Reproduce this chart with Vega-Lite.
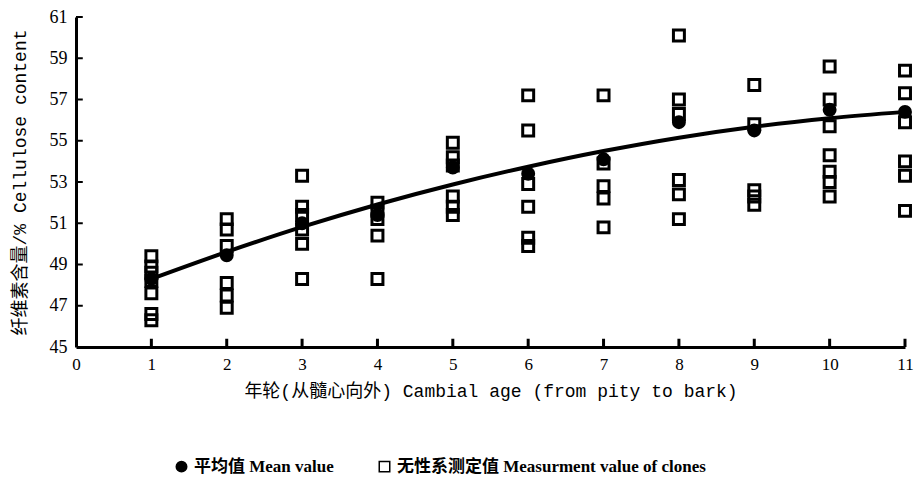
{
  "$schema": "https://vega.github.io/schema/vega-lite/v6.json",
  "width": 829,
  "height": 330,
  "autosize": {"type": "none"},
  "padding": {"left": 76, "top": 17, "right": 9, "bottom": 132},
  "background": "white",
  "config": {"view": {"stroke": null}, "font": "Liberation Serif"},
  "datasets": {
    "xticks": [{"age": 1}, {"age": 2}, {"age": 3}, {"age": 4}, {"age": 5}, {"age": 6}, {"age": 7}, {"age": 8}, {"age": 9}, {"age": 10}, {"age": 11}],
    "yticks": [{"v": 47}, {"v": 49}, {"v": 51}, {"v": 53}, {"v": 55}, {"v": 57}, {"v": 59}, {"v": 61}],
    "curve": [
      {"age": 1, "v": 48.30}, {"age": 2, "v": 49.61}, {"age": 3, "v": 50.82}, {"age": 4, "v": 51.91},
      {"age": 5, "v": 52.88}, {"age": 6, "v": 53.74}, {"age": 7, "v": 54.50}, {"age": 8, "v": 55.15},
      {"age": 9, "v": 55.68}, {"age": 10, "v": 56.09}, {"age": 11, "v": 56.40}
    ],
    "points": [
      {"age": 1, "v": 49.4, "s": "无性系测定值 Measurment value of clones"},
      {"age": 1, "v": 48.9, "s": "无性系测定值 Measurment value of clones"},
      {"age": 1, "v": 48.6, "s": "无性系测定值 Measurment value of clones"},
      {"age": 1, "v": 48.2, "s": "无性系测定值 Measurment value of clones"},
      {"age": 1, "v": 47.6, "s": "无性系测定值 Measurment value of clones"},
      {"age": 1, "v": 46.6, "s": "无性系测定值 Measurment value of clones"},
      {"age": 1, "v": 46.3, "s": "无性系测定值 Measurment value of clones"},
      {"age": 2, "v": 51.2, "s": "无性系测定值 Measurment value of clones"},
      {"age": 2, "v": 50.7, "s": "无性系测定值 Measurment value of clones"},
      {"age": 2, "v": 49.9, "s": "无性系测定值 Measurment value of clones"},
      {"age": 2, "v": 48.1, "s": "无性系测定值 Measurment value of clones"},
      {"age": 2, "v": 47.5, "s": "无性系测定值 Measurment value of clones"},
      {"age": 2, "v": 46.9, "s": "无性系测定值 Measurment value of clones"},
      {"age": 3, "v": 53.3, "s": "无性系测定值 Measurment value of clones"},
      {"age": 3, "v": 51.8, "s": "无性系测定值 Measurment value of clones"},
      {"age": 3, "v": 51.4, "s": "无性系测定值 Measurment value of clones"},
      {"age": 3, "v": 50.7, "s": "无性系测定值 Measurment value of clones"},
      {"age": 3, "v": 50.0, "s": "无性系测定值 Measurment value of clones"},
      {"age": 3, "v": 48.3, "s": "无性系测定值 Measurment value of clones"},
      {"age": 4, "v": 52.0, "s": "无性系测定值 Measurment value of clones"},
      {"age": 4, "v": 51.6, "s": "无性系测定值 Measurment value of clones"},
      {"age": 4, "v": 51.2, "s": "无性系测定值 Measurment value of clones"},
      {"age": 4, "v": 50.4, "s": "无性系测定值 Measurment value of clones"},
      {"age": 4, "v": 48.3, "s": "无性系测定值 Measurment value of clones"},
      {"age": 5, "v": 54.9, "s": "无性系测定值 Measurment value of clones"},
      {"age": 5, "v": 54.2, "s": "无性系测定值 Measurment value of clones"},
      {"age": 5, "v": 53.8, "s": "无性系测定值 Measurment value of clones"},
      {"age": 5, "v": 52.3, "s": "无性系测定值 Measurment value of clones"},
      {"age": 5, "v": 51.8, "s": "无性系测定值 Measurment value of clones"},
      {"age": 5, "v": 51.4, "s": "无性系测定值 Measurment value of clones"},
      {"age": 6, "v": 57.2, "s": "无性系测定值 Measurment value of clones"},
      {"age": 6, "v": 55.5, "s": "无性系测定值 Measurment value of clones"},
      {"age": 6, "v": 52.9, "s": "无性系测定值 Measurment value of clones"},
      {"age": 6, "v": 51.8, "s": "无性系测定值 Measurment value of clones"},
      {"age": 6, "v": 50.3, "s": "无性系测定值 Measurment value of clones"},
      {"age": 6, "v": 49.9, "s": "无性系测定值 Measurment value of clones"},
      {"age": 7, "v": 57.2, "s": "无性系测定值 Measurment value of clones"},
      {"age": 7, "v": 53.9, "s": "无性系测定值 Measurment value of clones"},
      {"age": 7, "v": 52.8, "s": "无性系测定值 Measurment value of clones"},
      {"age": 7, "v": 52.2, "s": "无性系测定值 Measurment value of clones"},
      {"age": 7, "v": 50.8, "s": "无性系测定值 Measurment value of clones"},
      {"age": 8, "v": 60.1, "s": "无性系测定值 Measurment value of clones"},
      {"age": 8, "v": 57.0, "s": "无性系测定值 Measurment value of clones"},
      {"age": 8, "v": 56.3, "s": "无性系测定值 Measurment value of clones"},
      {"age": 8, "v": 53.1, "s": "无性系测定值 Measurment value of clones"},
      {"age": 8, "v": 52.4, "s": "无性系测定值 Measurment value of clones"},
      {"age": 8, "v": 51.2, "s": "无性系测定值 Measurment value of clones"},
      {"age": 9, "v": 57.7, "s": "无性系测定值 Measurment value of clones"},
      {"age": 9, "v": 55.8, "s": "无性系测定值 Measurment value of clones"},
      {"age": 9, "v": 52.6, "s": "无性系测定值 Measurment value of clones"},
      {"age": 9, "v": 52.3, "s": "无性系测定值 Measurment value of clones"},
      {"age": 9, "v": 51.9, "s": "无性系测定值 Measurment value of clones"},
      {"age": 10, "v": 58.6, "s": "无性系测定值 Measurment value of clones"},
      {"age": 10, "v": 57.0, "s": "无性系测定值 Measurment value of clones"},
      {"age": 10, "v": 55.7, "s": "无性系测定值 Measurment value of clones"},
      {"age": 10, "v": 54.3, "s": "无性系测定值 Measurment value of clones"},
      {"age": 10, "v": 53.5, "s": "无性系测定值 Measurment value of clones"},
      {"age": 10, "v": 53.0, "s": "无性系测定值 Measurment value of clones"},
      {"age": 10, "v": 52.3, "s": "无性系测定值 Measurment value of clones"},
      {"age": 11, "v": 58.4, "s": "无性系测定值 Measurment value of clones"},
      {"age": 11, "v": 57.3, "s": "无性系测定值 Measurment value of clones"},
      {"age": 11, "v": 55.9, "s": "无性系测定值 Measurment value of clones"},
      {"age": 11, "v": 54.0, "s": "无性系测定值 Measurment value of clones"},
      {"age": 11, "v": 53.3, "s": "无性系测定值 Measurment value of clones"},
      {"age": 11, "v": 51.6, "s": "无性系测定值 Measurment value of clones"},
      {"age": 1, "v": 48.3, "s": "平均值 Mean value"},
      {"age": 2, "v": 49.45, "s": "平均值 Mean value"},
      {"age": 3, "v": 51.0, "s": "平均值 Mean value"},
      {"age": 4, "v": 51.4, "s": "平均值 Mean value"},
      {"age": 5, "v": 53.7, "s": "平均值 Mean value"},
      {"age": 6, "v": 53.4, "s": "平均值 Mean value"},
      {"age": 7, "v": 54.1, "s": "平均值 Mean value"},
      {"age": 8, "v": 55.9, "s": "平均值 Mean value"},
      {"age": 9, "v": 55.5, "s": "平均值 Mean value"},
      {"age": 10, "v": 56.5, "s": "平均值 Mean value"},
      {"age": 11, "v": 56.4, "s": "平均值 Mean value"}
    ]
  },
  "layer": [
    {
      "data": {"name": "curve"},
      "mark": {"type": "line", "color": "black", "strokeWidth": 4, "interpolate": "monotone"},
      "encoding": {
        "x": {
          "field": "age", "type": "quantitative",
          "scale": {"domain": [0, 11], "nice": false, "zero": false},
          "axis": {
            "values": [0, 1, 2, 3, 4, 5, 6, 7, 8, 9, 10, 11],
            "format": "d",
            "title": "年轮(从髓心向外) Cambial age (from pity to bark)",
            "grid": false, "ticks": false,
            "domainColor": "black", "domainWidth": 3,
            "labelFont": "Liberation Serif", "labelFontSize": 17, "labelColor": "black",
            "labelPadding": 9, "labelFlush": false,
            "titleFont": "Liberation Mono, Noto Sans CJK SC", "titleFontSize": 18,
            "titleFontWeight": "normal", "titleColor": "black", "titlePadding": 10
          }
        },
        "y": {
          "field": "v", "type": "quantitative",
          "scale": {"domain": [45, 61], "nice": false, "zero": false},
          "axis": {
            "values": [45, 47, 49, 51, 53, 55, 57, 59, 61],
            "format": "d",
            "title": "纤维素含量/%  Cellulose content",
            "grid": false, "ticks": false,
            "domainColor": "black", "domainWidth": 3,
            "labelFont": "Liberation Serif", "labelFontSize": 18, "labelColor": "black",
            "labelPadding": 9, "labelFlush": false,
            "titleFont": "Liberation Mono, Noto Sans CJK SC", "titleFontSize": 18,
            "titleFontWeight": "normal", "titleColor": "black", "titlePadding": 20
          }
        }
      }
    },
    {
      "data": {"name": "xticks"},
      "mark": {"type": "rule", "color": "black", "strokeWidth": 3},
      "encoding": {
        "x": {"field": "age", "type": "quantitative"},
        "y": {"datum": 45},
        "y2": {"datum": 45.4}
      }
    },
    {
      "data": {"name": "yticks"},
      "mark": {"type": "rule", "color": "black", "strokeWidth": 2},
      "encoding": {
        "y": {"field": "v", "type": "quantitative"},
        "x": {"datum": 0},
        "x2": {"datum": 0.09}
      }
    },
    {
      "data": {"name": "points"},
      "mark": {"type": "point", "filled": true, "stroke": "black", "strokeWidth": 3, "size": 120, "opacity": 1},
      "encoding": {
        "x": {"field": "age", "type": "quantitative"},
        "y": {"field": "v", "type": "quantitative"},
        "shape": {
          "field": "s", "type": "nominal",
          "scale": {"domain": ["平均值 Mean value", "无性系测定值 Measurment value of clones"], "range": ["circle", "square"]},
          "legend": {
            "orient": "none", "legendX": 97, "legendY": 441, "direction": "horizontal", "title": null,
            "labelFont": "Liberation Serif, Noto Sans CJK SC", "labelFontSize": 17, "labelFontWeight": "bold",
            "labelColor": "black", "symbolSize": 110, "columnPadding": 42, "labelLimit": 500,
            "encode": {"symbols": {"update": {"stroke": {"value": "black"}, "strokeWidth": {"value": 2}}}}
          }
        },
        "fill": {
          "field": "s", "type": "nominal",
          "scale": {"domain": ["平均值 Mean value", "无性系测定值 Measurment value of clones"], "range": ["black", "transparent"]},
          "legend": {
            "orient": "none", "legendX": 97, "legendY": 441, "direction": "horizontal", "title": null,
            "labelFont": "Liberation Serif, Noto Sans CJK SC", "labelFontSize": 17, "labelFontWeight": "bold",
            "labelColor": "black", "symbolSize": 110, "columnPadding": 42, "labelLimit": 500,
            "encode": {"symbols": {"update": {"stroke": {"value": "black"}, "strokeWidth": {"value": 2}}}}
          }
        }
      }
    }
  ]
}
